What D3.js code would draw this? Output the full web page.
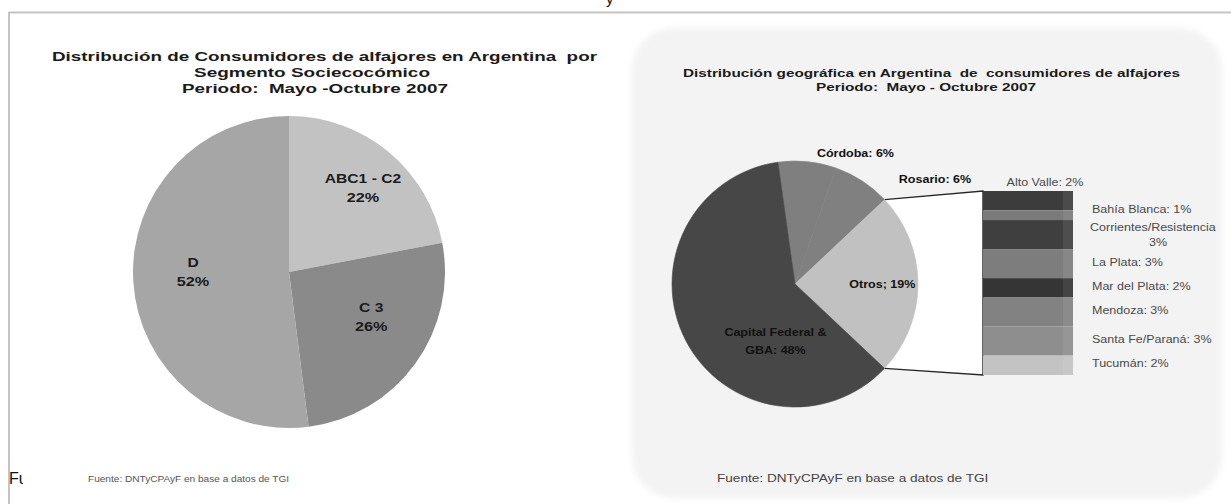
<!DOCTYPE html>
<html><head><meta charset="utf-8">
<script src="https://cdn.jsdelivr.net/npm/d3@7"></script>
<style>
html,body{margin:0;padding:0;background:#fff;overflow:hidden;}
svg{display:block;font-family:"Liberation Sans",Arial,Helvetica,sans-serif;}
svg text{white-space:pre;}
</style></head><body>
<svg id="chart" width="1231" height="504"></svg>
<script>
// Consumidores por segmento socioeconómico (%)
const segmentos = ["ABC1 - C2", "C 3", "D"];
const segmentoPct = [22, 26, 52];

// Distribución geográfica (%)
const regiones = ["Córdoba", "Rosario", "Otros", "Capital Federal & GBA"];
const regionPct = [6, 6, 19, 48];

// Desglose de "Otros" (%)
const otrosNombres = ["Alto Valle", "Bahía Blanca", "Corrientes/Resistencia", "La Plata",
                      "Mar del Plata", "Mendoza", "Santa Fe/Paraná", "Tucumán"];
const otrosPct = [2, 1, 3, 3, 2, 3, 3, 2];

const tituloIzq = ["Distribución de Consumidores de alfajores en Argentina  por",
                   "Segmento Sociecocómico",
                   "Periodo:  Mayo -Octubre 2007"];
const tituloDer = ["Distribución geográfica en Argentina  de  consumidores de alfajores",
                   "Periodo:  Mayo - Octubre 2007"];
const fuente = "Fuente: DNTyCPAyF en base a datos de TGI";

const svg = d3.select("#chart");

// widen text horizontally by factor k (the charts were exported stretched)
function stretch(sel, k) {
  sel.each(function () {
    const w = this.getComputedTextLength();
    d3.select(this).attr("textLength", w * k).attr("lengthAdjust", "spacingAndGlyphs");
  });
  return sel;
}
function fit(sel, w) {
  return sel.attr("textLength", w).attr("lengthAdjust", "spacingAndGlyphs");
}

// ---------- page frame ----------
const defs = svg.append("defs");
defs.append("filter").attr("id", "soft").attr("x", "-5%").attr("y", "-5%")
  .attr("width", "110%").attr("height", "110%")
  .append("feGaussianBlur").attr("stdDeviation", 3);
defs.append("clipPath").attr("id", "cutFu").append("rect")
  .attr("x", 0).attr("y", 440).attr("width", 23).attr("height", 64);

svg.append("text").attr("x", 606).attr("y", 4).attr("font-size", 15)
  .attr("fill", "#111").text("y");
svg.append("line").attr("x1", 9).attr("x2", 1231).attr("y1", 12.5).attr("y2", 12.5)
  .attr("stroke", "#c4c4c4").attr("stroke-width", 2);
svg.append("line").attr("x1", 9).attr("x2", 9).attr("y1", 12).attr("y2", 504)
  .attr("stroke", "#c4c4c4").attr("stroke-width", 2);
svg.append("text").attr("x", 9).attr("y", 484).attr("font-size", 16)
  .attr("fill", "#111").attr("clip-path", "url(#cutFu)").text("Fu");

// ---------- left chart: segmento socioeconómico ----------
const L = svg.append("g");
const lCx = 289, lCy = 272, lR = 156;
const lColor = d3.scaleOrdinal().domain(segmentos).range(["#c2c2c2", "#8a8a8a", "#a6a6a6"]);
const lPie = d3.pie().sort(null).value(d => d.v);
const lData = lPie(segmentos.map((s, i) => ({ name: s, v: segmentoPct[i] })));
const lArc = d3.arc().innerRadius(0).outerRadius(lR);

const lg = L.append("g").attr("transform", `translate(${lCx},${lCy})`);
lg.selectAll("path").data(lData).join("path")
  .attr("d", lArc).attr("fill", d => lColor(d.data.name));

// label anchor: fraction along the slice's angle and radius factor
const lLabelPos = { "ABC1 - C2": [0.52, 0.72], "C 3": [0.42, 0.60], "D": [0.52, 0.615] };
const lLab = lg.selectAll("g.lab").data(lData).join("g").attr("class", "lab")
  .attr("transform", d => {
    const [f, k] = lLabelPos[d.data.name];
    const a = d.startAngle + (d.endAngle - d.startAngle) * f;
    return `translate(${lR * k * Math.sin(a)},${-lR * k * Math.cos(a)})`;
  });
lLab.append("text").attr("y", -4.5).attr("text-anchor", "middle")
  .attr("font-size", 13).attr("font-weight", "bold").attr("fill", "#1a1a1a")
  .text(d => d.data.name).call(stretch, 1.2);
lLab.append("text").attr("y", 14.5).attr("text-anchor", "middle")
  .attr("font-size", 13).attr("font-weight", "bold").attr("fill", "#1a1a1a")
  .text(d => d.data.v + "%").call(stretch, 1.25);

// title
const lTitleX = [52, 194, 182], lTitleW = [545, 236, 266], lTitleY = [61, 77, 93];
tituloIzq.forEach((t, i) => {
  L.append("text").attr("x", lTitleX[i]).attr("y", lTitleY[i])
    .attr("font-size", 13.5).attr("font-weight", "bold").attr("fill", "#1a1a1a")
    .text(t).call(fit, lTitleW[i]);
});
L.append("text").attr("x", 88).attr("y", 482).attr("font-size", 9)
  .attr("fill", "#555").text(fuente).call(stretch, 1.12);

// ---------- right chart: distribución geográfica ----------
const R = svg.append("g");
R.append("rect").attr("x", 632).attr("y", 28).attr("width", 590).attr("height", 470)
  .attr("rx", 42).attr("fill", "#f3f3f3").attr("filter", "url(#soft)");

const rCx = 795, rCy = 284, rR = 123;
const total = d3.sum(regionPct);
const iOtros = regiones.indexOf("Otros");
const before = d3.sum(regionPct.slice(0, iOtros));
// rotate so the "Otros" slice faces the breakdown bar (centred at 3 o'clock)
const rot = Math.PI / 2 - (before + regionPct[iOtros] / 2) / total * 2 * Math.PI;
const rPie = d3.pie().sort(null).value(d => d.v).startAngle(rot).endAngle(rot + 2 * Math.PI);
const rData = rPie(regiones.map((s, i) => ({ name: s, v: regionPct[i] })));
const rColor = d3.scaleOrdinal().domain(regiones).range(["#7f7f7f", "#808080", "#c1c1c1", "#474747"]);
const rArc = d3.arc().innerRadius(0).outerRadius(rR);

// breakdown bar
const barX0 = 983, barX1 = 1073, barTop = 191, barBot = 375;
const stackY = d3.scaleLinear().domain([0, d3.sum(otrosPct)]).range([barTop, barBot]);
const cum = d3.cumsum(otrosPct);
const segs = otrosNombres.map((n, i) => ({ name: n, v: otrosPct[i], y0: cum[i] - otrosPct[i], y1: cum[i] }));
const barColor = d3.scaleOrdinal().domain(otrosNombres)
  .range(["#3c3c3c", "#7a7a7a", "#3f3f3f", "#7d7d7d", "#353535", "#828282", "#8e8e8e", "#c3c3c3"]);

const oArc = rData[iOtros];
const pA = [rCx + rR * Math.sin(oArc.startAngle), rCy - rR * Math.cos(oArc.startAngle)];
const pB = [rCx + rR * Math.sin(oArc.endAngle), rCy - rR * Math.cos(oArc.endAngle)];

// connector area between slice and bar
R.append("path")
  .attr("d", `M${pA[0]},${pA[1]}L${barX0},${barTop}L${barX0},${barBot}L${pB[0]},${pB[1]}Z`)
  .attr("fill", "#fff");
R.append("path")
  .attr("d", `M${pA[0]},${pA[1]}L${barX0},${barTop}L${barX0},${barBot}L${pB[0]},${pB[1]}`)
  .attr("fill", "none").attr("stroke", "#262626").attr("stroke-width", 1.4);

const rg = R.append("g").attr("transform", `translate(${rCx},${rCy})`);
rg.selectAll("path").data(rData).join("path")
  .attr("d", rArc).attr("fill", d => rColor(d.data.name))
  .attr("stroke", d => rColor(d.data.name)).attr("stroke-width", 0.6);

R.selectAll("rect.seg").data(segs).join("rect").attr("class", "seg")
  .attr("x", barX0).attr("width", barX1 - barX0)
  .attr("y", d => stackY(d.y0)).attr("height", d => stackY(d.y1) - stackY(d.y0))
  .attr("fill", d => barColor(d.name));
R.append("rect").attr("x", barX1 - 10).attr("y", barTop).attr("width", 10)
  .attr("height", barBot - barTop).attr("fill", "#fff").attr("opacity", 0.08);

// slice labels: fraction along slice angle, radius factor, anchor, vertical nudge
const rLabelPos = {
  "Córdoba": { f: 1.2, k: 1.17, anchor: "middle", dy: 0 },
  "Rosario": { f: 1.0, k: 1.16, anchor: "start", dy: -7 },
  "Otros": { f: 0.5, k: 0.71, anchor: "middle", dy: 0 },
  "Capital Federal & GBA": { f: 0.3, k: 0.49, anchor: "middle", dy: 0 }
};
rData.forEach(d => {
  const p = rLabelPos[d.data.name];
  const a = d.startAngle + (d.endAngle - d.startAngle) * p.f;
  const x = rCx + rR * p.k * Math.sin(a), y = rCy - rR * p.k * Math.cos(a) + p.dy;
  const lines = d.data.name === "Capital Federal & GBA"
    ? ["Capital Federal &", "GBA: " + d.data.v + "%"]
    : [d.data.name + (d.data.name === "Otros" ? "; " : ": ") + d.data.v + "%"];
  lines.forEach((t, j) => {
    R.append("text").attr("x", x).attr("y", y + 4 + (j - (lines.length - 1) / 2) * 18)
      .attr("text-anchor", p.anchor).attr("font-size", 10).attr("font-weight", "bold")
      .attr("fill", "#111").text(t).call(stretch, 1.25);
  });
});

// bar labels, centred on their segments, pushed apart where they would collide
const labY = segs.map(s => (stackY(s.y0) + stackY(s.y1)) / 2);
for (let i = labY.length - 2; i >= 1; i--) {
  const twoLine = segs[i + 1].name.length > 18;
  const gap = twoLine ? 24 : 16;
  if (labY[i + 1] - labY[i] < gap) labY[i] = labY[i + 1] - gap;
}
const barLabCol = "#4a4a4a";
segs.forEach((s, i) => {
  const yc = labY[i];
  const lab = R.append("text").attr("font-size", 10).attr("fill", barLabCol);
  if (i === 0) {
    lab.attr("x", (barX0 + barX1) / 2 + 17).attr("y", barTop - 5).attr("text-anchor", "middle")
      .text(s.name + ": " + s.v + "%").call(stretch, 1.25);
  } else if (s.name.length > 18) {
    lab.attr("x", 1090).attr("y", yc - 4).text(s.name).call(stretch, 1.25);
    R.append("text").attr("font-size", 10).attr("fill", barLabCol)
      .attr("x", 1158).attr("y", yc + 11).attr("text-anchor", "middle")
      .text(s.v + "%").call(stretch, 1.25);
  } else {
    lab.attr("x", 1092).attr("y", yc + 2).text(s.name + ": " + s.v + "%").call(stretch, 1.25);
  }
});

// title and source
const rTitleX = [683, 816], rTitleW = [497, 220], rTitleY = [77, 91];
tituloDer.forEach((t, i) => {
  R.append("text").attr("x", rTitleX[i]).attr("y", rTitleY[i])
    .attr("font-size", 11).attr("font-weight", "bold").attr("fill", "#1a1a1a")
    .text(t).call(fit, rTitleW[i]);
});
R.append("text").attr("x", 717).attr("y", 482).attr("font-size", 10)
  .attr("fill", "#444").text(fuente).call(stretch, 1.36);
</script>
</body></html>
